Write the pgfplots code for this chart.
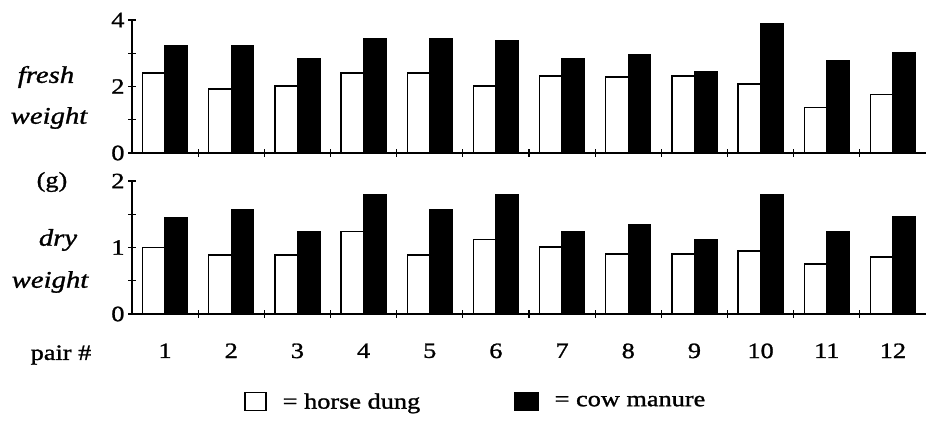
\documentclass[border=0pt]{standalone}
\usepackage{fontspec}
\setmainfont{Liberation Serif}[FakeStretch=1.2, FakeBold=1.2]
\usepackage{pgfplots}
\pgfplotsset{compat=1.18}
\begin{document}
\begin{tikzpicture}[x=1bp,y=1bp]
\path[use as bounding box] (0,0) rectangle (927,444);
\pgfplotsset{
 common/.style={
  scale only axis, width=794bp, height=133bp,
  xmin=0.5, xmax=12.5,
  ybar=0pt, bar width=0.34,
  axis lines=left, axis line style={-, line width=1.4bp},
  tick align=center, major tick length=8bp, minor tick length=8bp,
  tick style={black, line width=1.2bp},
  ticklabel style={font=\fontsize{22}{22}\selectfont},
  /pgf/number format/assume math mode=true,
  xtick={1.5,2.5,...,11.5}, xticklabels={},
 }
}
\begin{axis}[common, at={(132bp,291bp)}, anchor=south west,
  ymin=0, ymax=4, ytick={0,2,4}, minor ytick={1,3}]
\addplot[fill=white, draw=black, line width=1.4bp] coordinates {
(1,2.41) (2,1.92) (3,2.01) (4,2.41) (5,2.41) (6,2.01)
(7,2.32) (8,2.28) (9,2.32) (10,2.07) (11,1.36) (12,1.75)};
\addplot[fill=black, draw=black, line width=1.4bp] coordinates {
(1,3.24) (2,3.24) (3,2.84) (4,3.44) (5,3.44) (6,3.39)
(7,2.83) (8,2.96) (9,2.44) (10,3.89) (11,2.78) (12,3.03)};
\end{axis}
\begin{axis}[common, at={(132bp,130bp)}, anchor=south west,
  ymin=0, ymax=2, ytick={0,1,2}, minor ytick={0.5,1.5},
  extra x ticks={1,2,...,12},
  extra x tick labels={1,2,3,4,5,6,7,8,9,10,11,12},
  extra x tick style={major tick length=0pt, tick label style={yshift=-26bp}},
  legend columns=2,
  legend style={draw=none, fill=none, at={(0.433,-0.66)}, anchor=center,
    font=\fontsize{22}{22}\selectfont,
    /tikz/every odd column/.append style={column sep=14bp},
    /tikz/every even column/.append style={column sep=92bp}},
  legend cell align=left]
\addplot[fill=white, draw=black, line width=1.4bp,
  legend image code/.code={\draw[fill=white,draw=black,line width=1.4bp] (0bp,-9bp) rectangle (21bp,9bp);}] coordinates {
(1,1.00) (2,0.89) (3,0.89) (4,1.24) (5,0.89) (6,1.12)
(7,1.01) (8,0.90) (9,0.90) (10,0.95) (11,0.75) (12,0.86)};
\addlegendentry{= horse dung}
\addplot[fill=black, draw=black, line width=1.4bp,
  legend image code/.code={\draw[fill=black,draw=black,line width=1.4bp] (0bp,-9bp) rectangle (23bp,9bp);}] coordinates {
(1,1.45) (2,1.57) (3,1.24) (4,1.79) (5,1.57) (6,1.79)
(7,1.24) (8,1.35) (9,1.11) (10,1.79) (11,1.24) (12,1.46)};
\addlegendentry{= cow manure}
\end{axis}
\node[font=\itshape\fontsize{24}{24}\selectfont] at (46,367) {fresh};
\node[font=\itshape\fontsize{24}{24}\selectfont] at (49,326) {weight};
\node[font=\fontsize{22}{22}\selectfont] at (52,262) {(g)};
\node[font=\itshape\fontsize{24}{24}\selectfont] at (58,204) {dry};
\node[font=\itshape\fontsize{24}{24}\selectfont] at (50,162) {weight};
\node[font=\fontsize{22}{22}\selectfont] at (61,89) {pair \#};
\end{tikzpicture}
\end{document}
